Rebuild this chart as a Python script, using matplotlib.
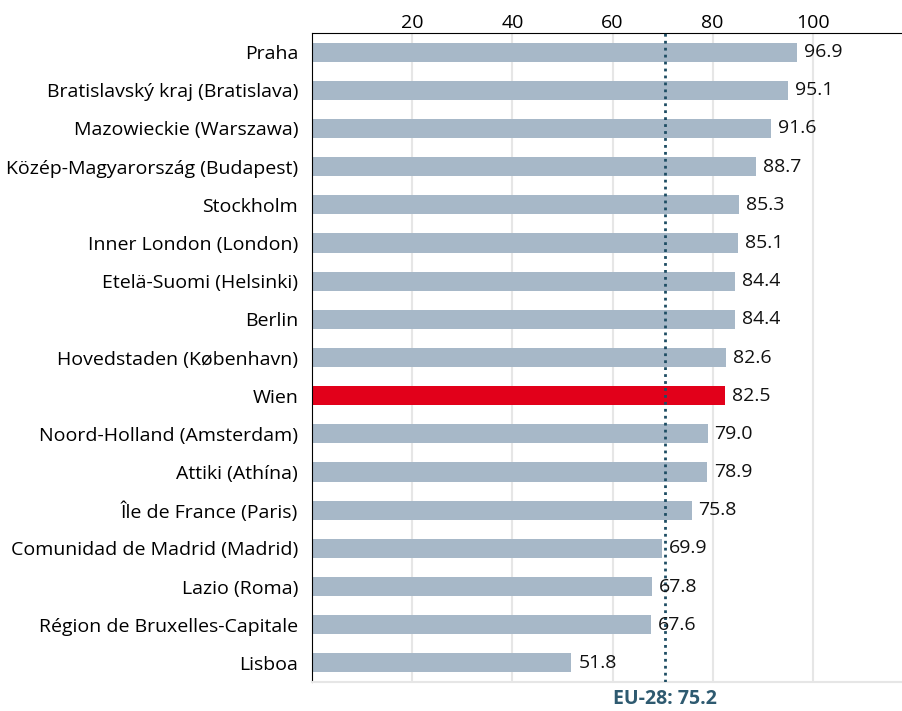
import numpy as np
import matplotlib.pyplot as plt

plt.rcParams['font.family'] = ['Open Sans', 'DejaVu Sans']

regions = ['Praha', 'Bratislavský kraj (Bratislava)', 'Mazowieckie (Warszawa)',
           'Közép-Magyarország (Budapest)', 'Stockholm', 'Inner London (London)',
           'Etelä-Suomi (Helsinki)', 'Berlin', 'Hovedstaden (København)', 'Wien',
           'Noord-Holland (Amsterdam)', 'Attiki (Athína)', 'Île de France (Paris)',
           'Comunidad de Madrid (Madrid)', 'Lazio (Roma)', 'Région de Bruxelles-Capitale',
           'Lisboa']
values = [96.9, 95.1, 91.6, 88.7, 85.3, 85.1, 84.4, 84.4, 82.6, 82.5,
          79.0, 78.9, 75.8, 69.9, 67.8, 67.6, 51.8]
highlight = 'Wien'
eu_label = 'EU-28: 75.2'
eu_line_x = 70.4  # position of dotted line as drawn in the source
ticks = [20, 40, 60, 80, 100]

fig = plt.figure(figsize=(9.03, 7.11), dpi=100)
ax = fig.add_axes([312 / 903, 29 / 711, 591 / 903, 649 / 711])

y = np.arange(len(regions))
colors = ['#e2001a' if r == highlight else '#a7b8c8' for r in regions]
ax.barh(y, values, height=0.5, color=colors, zorder=2)
for yi, v in zip(y, values):
    ax.annotate(f'{v:.1f}', (v, yi), xytext=(5, 0), textcoords='offset points',
                va='center', ha='left', fontsize=14, color='#111111', zorder=4)

ax.axvline(eu_line_x, color='#1e4d63', linestyle=(0, (1, 1.5)), linewidth=2, zorder=3)
ax.annotate(eu_label, (eu_line_x, 0), xycoords=ax.get_xaxis_transform(),
            xytext=(0, -12), textcoords='offset points', ha='center', va='center',
            fontsize=14, fontweight='bold', color='#2e5a70')

ax.set_xlim(0, 118)
ax.set_ylim(len(regions) - 0.5, -0.5)
ax.set_yticks(y)
ax.set_yticklabels(regions, fontsize=14)
ax.set_xticks(ticks)
ax.xaxis.tick_top()
ax.tick_params(axis='x', labelsize=14, length=0, pad=1)
ax.tick_params(axis='y', length=0, pad=10)
ax.grid(axis='x', color='#e6e6e6', linewidth=1.5, zorder=0)
ax.set_axisbelow(True)

ax.spines['right'].set_visible(False)
ax.spines['top'].set_color('black')
ax.spines['left'].set_color('black')
ax.spines['bottom'].set_color('#e6e6e6')
ax.spines['bottom'].set_linewidth(1.5)

fig.savefig('out.png', dpi=100)
